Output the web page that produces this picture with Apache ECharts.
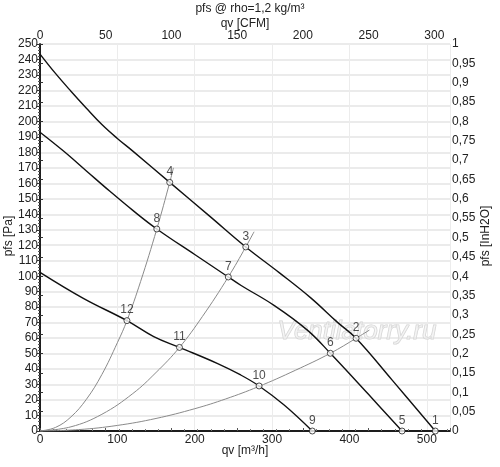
<!DOCTYPE html>
<html>
<head>
<meta charset="utf-8">
<script src="https://cdn.jsdelivr.net/npm/echarts@6/dist/echarts.min.js"></script>
<style>
  html, body { margin: 0; padding: 0; background: #fff; }
  #chart { width: 500px; height: 467px; }
</style>
</head>
<body>
<div id="chart"></div>
<script>
// fan curves, [qv m3/h, pfs Pa]
const fanHigh = [[0, 243.5], [20, 231], [40, 219.5], [60, 208.5], [80, 198], [100, 189], [120, 180.8],
  [167.7, 160.6], [220, 138.5], [266, 118.9], [310, 102], [350, 86], [385, 70], [408.6, 59.9],
  [455, 33], [511, 0]]
const fanMid = [[0, 193], [30, 181], [60, 168], [90, 155], [120, 142.5], [151, 130.5], [200, 114],
  [243.4, 99.5], [260, 94], [303, 81], [346, 65], [375.3, 50.2], [424, 24], [468, 0]]
const fanLow = [[0, 102.5], [56, 85.7], [112.4, 71.3], [147, 61], [180.3, 54], [229, 43.7],
  [259.4, 36.2], [283.2, 29.1], [315.6, 16.8], [352, 0]]

// system curves
const sysSteep = [[0, 0], [20, 2.3], [40, 9.1], [60, 20.5], [80, 36.5], [100, 57], [112.4, 71.3],
  [130, 96.5], [151, 130.5], [167.7, 160.6], [172.5, 170]]
const sysMid = [[0, 0], [40, 2.7], [80, 10.8], [120, 24.2], [150, 37.8], [180.3, 54], [210, 74],
  [243.4, 99.5], [266, 118.9], [276.7, 128.7]]
const sysFlat = [[0, 0], [50, 0.9], [100, 3.6], [150, 8.1], [200, 14.4], [240, 20.7], [282, 28.6],
  [330, 39.2], [375.3, 50.2], [408.6, 59.9], [425.8, 65.2]]

// operating points
const pointNames = ['1', '2', '3', '4', '5', '6', '7', '8', '9', '10', '11', '12']
const pointQ = [511, 408.6, 266, 167.7, 468, 375.3, 243.4, 151, 352, 283.2, 180.3, 112.4]
const pointP = [0, 59.9, 118.9, 160.6, 0, 50.2, 99.5, 130.5, 0, 29.1, 54, 71.3]

const qvMax = 530
const cfmPerM3h = 1 / 1.699
const font = 'Liberation Sans'

const chart = echarts.init(document.getElementById('chart'))

const fanStyle = { color: '#111', width: 1.4 }
const sysStyle = { color: '#8a8a8a', width: 1 }

function lineSeries(data, style) {
  return {
    type: 'line',
    data: data,
    smooth: 0.4,
    symbol: 'none',
    lineStyle: style,
    silent: true,
    z: style === fanStyle ? 3 : 2
  }
}

// axis titles drawn as plain text so they sit where the original has them
function axisTitle(text, x, y, rotation) {
  return {
    type: 'text',
    x: x,
    y: y,
    rotation: rotation || 0,
    silent: true,
    style: {
      text: text,
      font: '12px ' + font,
      fill: '#222',
      align: 'center',
      verticalAlign: 'middle'
    }
  }
}

const option = {
  animation: false,
  textStyle: { fontFamily: font },
  title: {
    text: 'pfs @ rho=1,2 kg/m³',
    left: 245,
    textAlign: 'center',
    top: -2,
    textStyle: { fontSize: 12, fontWeight: 'normal', color: '#222', fontFamily: font }
  },
  grid: { left: 40, right: 50, top: 44, bottom: 36, outerBoundsMode: 'none', containLabel: false },
  xAxis: [
    {
      type: 'value',
      position: 'bottom',
      min: 0,
      max: qvMax,
      interval: 100,
      axisLine: { lineStyle: { color: '#111', width: 1.5 } },
      axisTick: { show: false },
      axisLabel: { fontSize: 12, color: '#222', margin: 3, showMaxLabel: false },
      splitLine: { show: true, lineStyle: { color: '#ececec', width: 1 } }
    },
    {
      type: 'value',
      position: 'top',
      min: 0,
      max: qvMax * cfmPerM3h,
      interval: 50,
      axisLine: { show: true, lineStyle: { color: '#111', width: 1.5 } },
      axisTick: { show: true, length: 3, lineStyle: { color: '#555' } },
      minorTick: { show: true, splitNumber: 5, length: 2, lineStyle: { color: '#777' } },
      axisLabel: { fontSize: 12, color: '#222', margin: 2, showMaxLabel: false },
      splitLine: { show: false }
    }
  ],
  yAxis: [
    {
      type: 'value',
      position: 'left',
      min: 0,
      max: 250,
      interval: 10,
      axisLine: { show: true, lineStyle: { color: '#111', width: 1.5 } },
      axisTick: { show: true, length: 3, lineStyle: { color: '#333' } },
      minorTick: { show: true, splitNumber: 5, length: 2, lineStyle: { color: '#555' } },
      axisLabel: { fontSize: 12, color: '#222', margin: 2 },
      splitLine: { show: true, lineStyle: { color: '#e4e4e4', width: 1.5 } }
    },
    {
      type: 'value',
      position: 'right',
      min: 0,
      max: 1,
      interval: 0.05,
      axisLine: { show: true, lineStyle: { color: '#111', width: 1.5 } },
      axisTick: { show: true, length: 3, lineStyle: { color: '#333' } },
      axisLabel: {
        fontSize: 12,
        color: '#222',
        margin: 2,
        formatter(value) {
          return String(parseFloat(value.toFixed(2))).replace('.', ',')
        }
      },
      splitLine: { show: false }
    }
  ],
  graphic: [
    axisTitle('qv [CFM]', 245, 24),
    axisTitle('qv [m³/h]', 245, 451),
    axisTitle('pfs [Pa]', 9, 236, Math.PI / 2),
    axisTitle('pfs [InH2O]', 486, 236, Math.PI / 2),
    {
      type: 'text',
      left: 277,
      top: 318,
      silent: true,
      z: 1,
      style: {
        text: 'Ventilatorry.ru',
        font: 'italic 26px Liberation Sans',
        fill: 'rgba(240,240,240,0.6)',
        stroke: '#d2d2d2',
        lineWidth: 1
      }
    }
  ],
  series: [
    lineSeries(sysSteep, sysStyle),
    lineSeries(sysMid, sysStyle),
    lineSeries(sysFlat, sysStyle),
    lineSeries(fanHigh, fanStyle),
    lineSeries(fanMid, fanStyle),
    lineSeries(fanLow, fanStyle),
    {
      type: 'scatter',
      data: pointQ.map((q, i) => ({ name: pointNames[i], value: [q, pointP[i]] })),
      symbol: 'circle',
      symbolSize: 6,
      itemStyle: { color: '#fff', borderColor: '#222', borderWidth: 1 },
      label: {
        show: true,
        position: 'top',
        distance: 1,
        formatter: '{b}',
        fontSize: 12,
        color: '#222'
      },
      z: 5
    }
  ]
}

chart.setOption(option)
</script>
</body>
</html>
